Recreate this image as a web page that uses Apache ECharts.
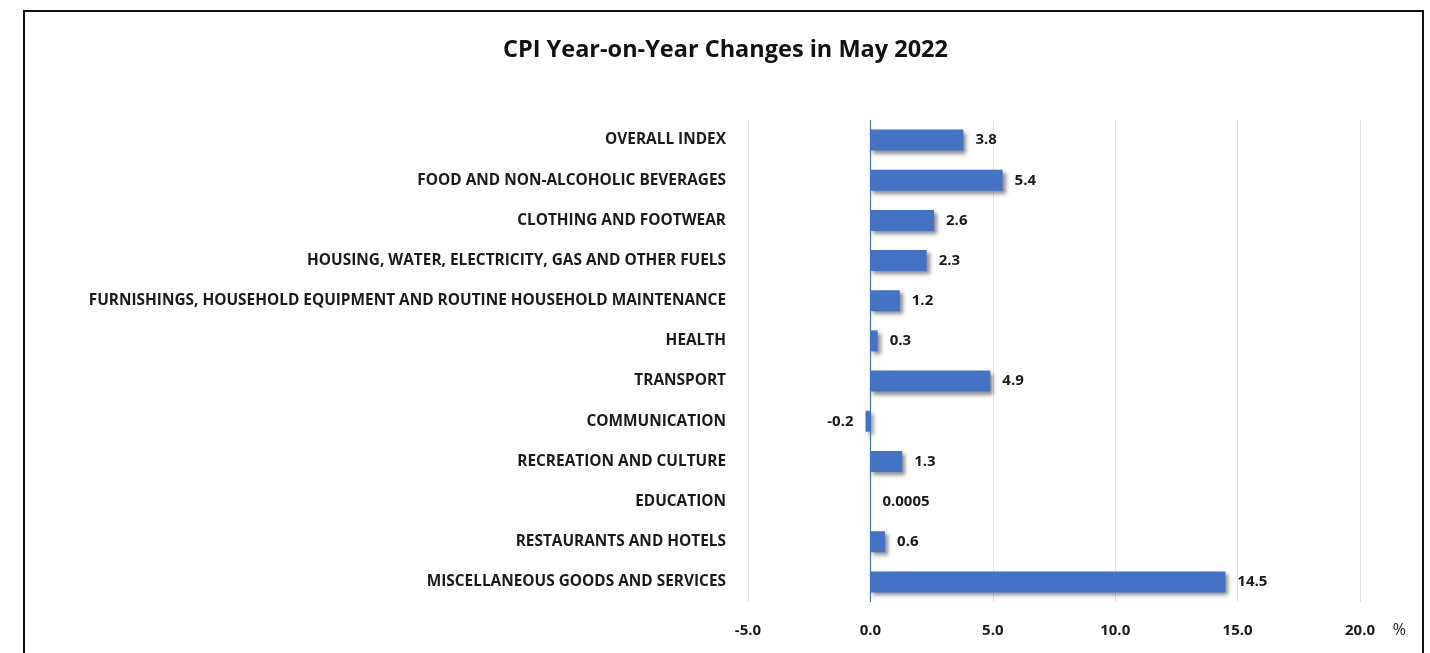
<!DOCTYPE html>
<html>
<head>
<meta charset="utf-8">
<script src="https://cdn.jsdelivr.net/npm/echarts@6/dist/echarts.min.js"></script>
<style>
  html, body { margin: 0; padding: 0; background: #fff; }
  #frame { position: absolute; left: 23px; top: 10px; width: 1401px; height: 700px; border: 2px solid #111; box-sizing: border-box; }
  #chart { position: absolute; left: 0; top: 0; width: 1430px; height: 653px; }
</style>
</head>
<body>
<div id="frame"></div>
<div id="chart"></div>
<script>
const titleText = 'CPI Year-on-Year Changes in May 2022';
const categories = [
  'OVERALL INDEX',
  'FOOD AND NON-ALCOHOLIC BEVERAGES',
  'CLOTHING AND FOOTWEAR',
  'HOUSING, WATER, ELECTRICITY, GAS AND OTHER FUELS',
  'FURNISHINGS, HOUSEHOLD EQUIPMENT AND ROUTINE HOUSEHOLD MAINTENANCE',
  'HEALTH',
  'TRANSPORT',
  'COMMUNICATION',
  'RECREATION AND CULTURE',
  'EDUCATION',
  'RESTAURANTS AND HOTELS',
  'MISCELLANEOUS GOODS AND SERVICES'
];
const values = [3.8, 5.4, 2.6, 2.3, 1.2, 0.3, 4.9, -0.2, 1.3, 0.0005, 0.6, 14.5];
const axisMin = -5, axisMax = 20, axisStep = 5;
const unitLabel = '%';

const FONT = '"Open Sans", "Noto Sans", sans-serif';
const chart = echarts.init(document.getElementById('chart'), null, { renderer: 'canvas' });
const option = {
  backgroundColor: 'transparent',
  animation: false,
  title: {
    text: titleText,
    left: 498,
    top: 33,
    textStyle: { fontFamily: FONT, fontWeight: 'bold', fontSize: 23.5, color: '#111' }
  },
  grid: { left: 748, right: 70, top: 120, bottom: 51, containLabel: false },
  xAxis: {
    type: 'value',
    min: axisMin, max: axisMax, interval: axisStep,
    axisLine: { show: false },
    axisTick: { show: false },
    splitLine: { show: true, lineStyle: { color: '#e3e3e3', width: 1 } },
    axisLabel: {
      margin: 21,
      fontFamily: FONT, fontWeight: 'bold', fontSize: 15, color: '#1a1a1a',
      formatter: v => v.toFixed(1)
    }
  },
  yAxis: {
    type: 'category',
    data: categories,
    inverse: true,
    axisLine: { show: false },
    axisTick: { show: false },
    splitLine: { show: false },
    axisLabel: { margin: 22, fontFamily: FONT, fontWeight: 'bold', fontSize: 15.4, color: '#1a1a1a' }
  },
  graphic: [{
    type: 'text',
    right: 24, top: 622,
    style: { text: unitLabel, font: '16px ' + FONT, fill: '#222' }
  }],
  series: [{
    type: 'bar',
    barWidth: 21,
    data: values.map(v => ({
      value: v,
      label: { position: v < 0 ? 'left' : 'right' }
    })),
    itemStyle: {
      color: '#4472C4',
      shadowColor: 'rgba(0,0,0,0.45)',
      shadowBlur: 4,
      shadowOffsetX: 3,
      shadowOffsetY: 3
    },
    label: {
      show: true,
      distance: 12,
      fontFamily: FONT, fontWeight: 'bold', fontSize: 15, color: '#1a1a1a',
      formatter: p => String(p.value)
    },
    markLine: {
      silent: true,
      symbol: 'none',
      label: { show: false },
      lineStyle: { color: '#4472C4', type: 'solid', width: 1.2 },
      data: [{ xAxis: 0 }]
    }
  }]
};
chart.setOption(option);
</script>
</body>
</html>
